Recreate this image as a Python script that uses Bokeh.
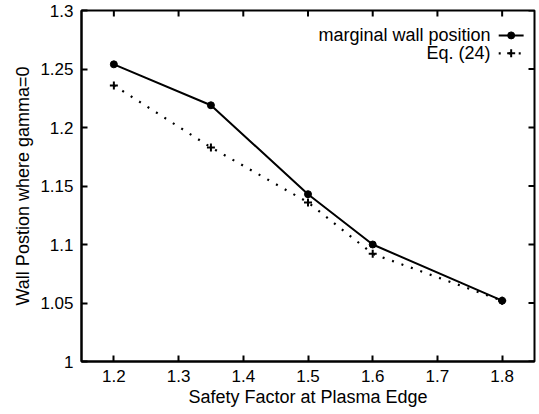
from bokeh.plotting import figure
from bokeh.models import Range1d, FixedTicker, Label
from bokeh.embed import file_html
from bokeh.resources import INLINE

# ---- data ----
q_edge = [1.2, 1.35, 1.5, 1.6, 1.8]
marginal_wall = [1.254, 1.219, 1.143, 1.100, 1.052]
eq24 = [1.236, 1.183, 1.136, 1.092, 1.052]
x_ticks = [1.2, 1.3, 1.4, 1.5, 1.6, 1.7, 1.8]
y_ticks = [1.0, 1.05, 1.1, 1.15, 1.2, 1.25, 1.3]
y_tick_labels = ["1", "1.05", "1.1", "1.15", "1.2", "1.25", "1.3"]
series_names = ["marginal wall position", "Eq. (24)"]

X0, X1 = 1.15, 1.85
Y0, Y1 = 1.0, 1.3
FRAME_W, FRAME_H = 453, 351
TICK_PX = 6
FONT = "Liberation Sans"

p = figure(width=539, height=414, output_backend="svg", toolbar_location=None,
           x_range=Range1d(X0, X1), y_range=Range1d(Y0, Y1),
           min_border_left=81, min_border_right=5, min_border_top=10, min_border_bottom=53)
p.background_fill_color = "white"
p.border_fill_color = "white"
p.outline_line_color = "black"
p.outline_line_width = 2
p.grid.visible = False

def style_axis(ax, ticks):
    ax.ticker = FixedTicker(ticks=ticks)
    ax.major_tick_in = TICK_PX
    ax.major_tick_out = 0
    ax.minor_tick_in = 0
    ax.minor_tick_out = 0
    ax.major_tick_line_width = 2
    ax.major_tick_line_color = "black"
    ax.axis_line_color = "black"
    ax.axis_line_width = 2
    ax.major_label_text_font = FONT
    ax.major_label_text_font_size = "17px"
    ax.major_label_text_color = "black"
    ax.major_label_standoff = 8
    ax.axis_label_text_font = FONT
    ax.axis_label_text_font_size = "18px"
    ax.axis_label_text_font_style = "normal"
    ax.axis_label_text_color = "black"

style_axis(p.xaxis[0], x_ticks)
style_axis(p.yaxis[0], y_ticks)
p.xaxis[0].major_label_overrides = {t: str(t) for t in x_ticks}
p.yaxis[0].major_label_overrides = {t: l for t, l in zip(y_ticks, y_tick_labels)}
p.xaxis[0].axis_label = "Safety Factor at Plasma Edge"
p.yaxis[0].axis_label = "Wall Postion where gamma=0"
p.xaxis[0].axis_label_standoff = 2
p.yaxis[0].axis_label_standoff = 4

# mirrored inward ticks on top and right (gnuplot style)
dy_tick = TICK_PX * (Y1 - Y0) / FRAME_H
dx_tick = TICK_PX * (X1 - X0) / FRAME_W
p.segment(x0=x_ticks, y0=[Y1] * len(x_ticks), x1=x_ticks, y1=[Y1 - dy_tick] * len(x_ticks),
          line_color="black", line_width=2)
p.segment(x0=[X1] * len(y_ticks), y0=y_ticks, x1=[X1 - dx_tick] * len(y_ticks), y1=y_ticks,
          line_color="black", line_width=2)

# ---- data lines ----
p.line(q_edge, marginal_wall, line_color="black", line_width=2)
p.scatter(q_edge, marginal_wall, marker="circle", size=7, fill_color="black", line_color="black")
p.line(q_edge, eq24, line_color="black", line_width=2.2, line_dash="2 8")
p.scatter(q_edge, eq24, marker="cross", size=8, line_color="black", line_width=2)

# ---- legend (text left, sample right, gnuplot style) ----
def fx(f):
    return X0 + f * (X1 - X0)

def fy(f):
    return Y0 + f * (Y1 - Y0)

text_right = fx(0.903)
samp_l, samp_r, samp_m = fx(0.921), fx(0.976), fx(0.9485)
rows = [fy(0.929), fy(0.878)]

for name, yy in zip(series_names, rows):
    p.add_layout(Label(x=text_right, y=yy, text=name, text_align="right", text_baseline="middle",
                       text_font=FONT, text_font_size="18px", text_color="black"))

p.line([samp_l, samp_r], [rows[0], rows[0]], line_color="black", line_width=2)
p.scatter([samp_m], [rows[0]], marker="circle", size=7, fill_color="black", line_color="black")
p.line([samp_l, samp_r], [rows[1], rows[1]], line_color="black", line_width=2.2, line_dash="2 8")
p.scatter([samp_m], [rows[1]], marker="cross", size=8, line_color="black", line_width=2)

open("out.html", "w").write(file_html(p, INLINE))
